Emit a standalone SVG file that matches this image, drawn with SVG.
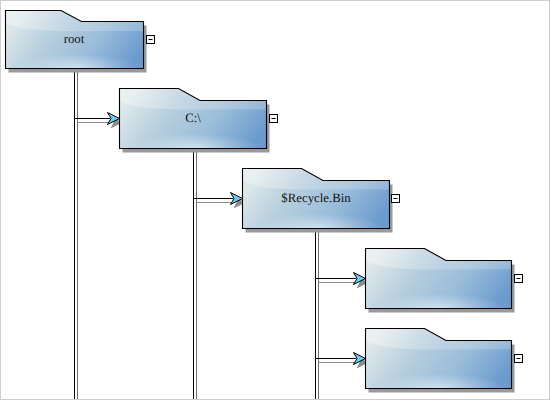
<svg xmlns="http://www.w3.org/2000/svg" xmlns:xlink="http://www.w3.org/1999/xlink" width="550" height="400" viewBox="0 0 550 400">
<style>
text{font-family:"Liberation Serif","Times New Roman",serif;font-size:12.800px;fill:#111;text-anchor:middle;text-rendering:geometricPrecision}
.line{stroke:#000;stroke-width:1;fill:none}
.ls{stroke:#8c8c8c;stroke-width:1;fill:none}
.vs{stroke:#6e6e6e;stroke-width:1;fill:none}
.head{fill:#62cff4;stroke:#000;stroke-width:1;stroke-linejoin:miter}
.heads{fill:#8c8c8c}
.shadow{fill:#999}
.edge{fill:none;stroke:#000;stroke-width:1.100;stroke-linejoin:miter}
.tog{fill:#fff;stroke:#000;stroke-width:1}
</style>
<defs>
<linearGradient id="base" x1="0" y1="0.35" x2="1" y2="0.65">
<stop offset="0" stop-color="#e0e9ea"/>
<stop offset="0.32" stop-color="#b7cfde"/>
<stop offset="0.65" stop-color="#9abdda"/>
<stop offset="1" stop-color="#6a9bcd"/>
</linearGradient>
<radialGradient id="glow" cx="0.52" cy="1" r="0.5" gradientTransform="translate(0.52 1) scale(0.9 0.5) translate(-0.52 -1)">
<stop offset="0" stop-color="#fff" stop-opacity="0.55"/>
<stop offset="0.55" stop-color="#fff" stop-opacity="0.22"/>
<stop offset="1" stop-color="#fff" stop-opacity="0"/>
</radialGradient>
<linearGradient id="gloss" x1="0" y1="0" x2="1" y2="0">
<stop offset="0" stop-color="#fff" stop-opacity="0.32"/>
<stop offset="0.5" stop-color="#fff" stop-opacity="0.2"/>
<stop offset="1" stop-color="#fff" stop-opacity="0.2"/>
</linearGradient>
<path id="f" d="M0 0H59L80.500 12H147V60H0Z"/>
<path id="f2" d="M0 0H59L80.500 12H146V60H0Z"/>
<path id="fr" d="M0 0H55.500L76 11H138V58H0Z"/>
<path id="gl" d="M0 0H59L80.500 12H147V21H70C35 21 12 19 0 12Z"/>
<path id="gl2" d="M0 0H59L80.500 12H146V21H70C35 21 12 19 0 12Z"/>
<path id="glr" d="M0 0H55.500L76 11H138V20.500H66C33 20.500 11 18.500 0 11.500Z"/>
<g id="folder">
<use xlink:href="#f" href="#f" class="shadow" x="3" y="4"/>
<use xlink:href="#f" href="#f" fill="url(#base)"/>
<use xlink:href="#f" href="#f" fill="url(#glow)"/>
<use xlink:href="#gl" href="#gl" fill="url(#gloss)"/>
<use xlink:href="#f" href="#f" class="edge"/>
</g>
<g id="folder2">
<use xlink:href="#f2" href="#f2" class="shadow" x="3" y="4"/>
<use xlink:href="#f2" href="#f2" fill="url(#base)"/>
<use xlink:href="#f2" href="#f2" fill="url(#glow)"/>
<use xlink:href="#gl2" href="#gl2" fill="url(#gloss)"/>
<use xlink:href="#f2" href="#f2" class="edge"/>
</g>
<g id="arrow">
<path class="heads" d="M3 4L-9 -2L-6 4L-9 10Z"/>
<path class="head" d="M0 0L-12 -6L-8.500 0L-12 6Z"/>
</g>
</defs>
<rect width="550" height="400" fill="#fff"/>
<rect x="0.500" y="0.500" width="549" height="399" fill="none" stroke="#cfcfcf" stroke-width="1"/>
<g id="connectors">
<path class="vs" d="M77.500 68V399M196.500 148V399M318.500 228V399"/>
<path class="line" d="M74.500 68V399M193.500 148V399M315.500 228V399"/>
<path class="ls" d="M77 122.500H112M196 202.500H235M318 282.500H358M318 362.500H358"/>
<path class="line" d="M74.500 118.500H110M193.500 198.500H233M315.500 278.500H356M315.500 358.500H356"/>
<use xlink:href="#arrow" href="#arrow" x="119.500" y="118.500"/>
<use xlink:href="#arrow" href="#arrow" x="242.500" y="198.500"/>
<use xlink:href="#arrow" href="#arrow" x="365.500" y="278.500"/>
<use xlink:href="#arrow" href="#arrow" x="365.500" y="358.500"/>
</g>
<g id="node-root" transform="translate(5.500 10.500)">
<use xlink:href="#fr" href="#fr" class="shadow" x="3" y="4"/>
<use xlink:href="#fr" href="#fr" fill="url(#base)"/>
<use xlink:href="#fr" href="#fr" fill="url(#glow)"/>
<use xlink:href="#glr" href="#glr" fill="url(#gloss)"/>
<use xlink:href="#fr" href="#fr" class="edge"/>
<text x="68.500" y="32.500">root</text>
<rect class="tog" x="141" y="25" width="8" height="8"/>
<path class="line" d="M143 29H147"/>
</g>
<g id="node-c" transform="translate(119.500 88.500)">
<use xlink:href="#folder" href="#folder"/>
<text x="73.500" y="33.500">C:\</text>
<rect class="tog" x="150" y="26" width="8" height="8"/>
<path class="line" d="M152 30H156"/>
</g>
<g id="node-recycle" transform="translate(242.500 168.500)">
<use xlink:href="#folder" href="#folder"/>
<text x="73.500" y="33.500">$Recycle.Bin</text>
<rect class="tog" x="149" y="26" width="8" height="8"/>
<path class="line" d="M151 30H155"/>
</g>
<g id="node-a" transform="translate(365.500 248.500)">
<use xlink:href="#folder2" href="#folder2"/>
<rect class="tog" x="149" y="26" width="8" height="8"/>
<path class="line" d="M151 30H155"/>
</g>
<g id="node-b" transform="translate(365.500 328.500)">
<use xlink:href="#folder2" href="#folder2"/>
<rect class="tog" x="149" y="26" width="8" height="8"/>
<path class="line" d="M151 30H155"/>
</g>
</svg>
